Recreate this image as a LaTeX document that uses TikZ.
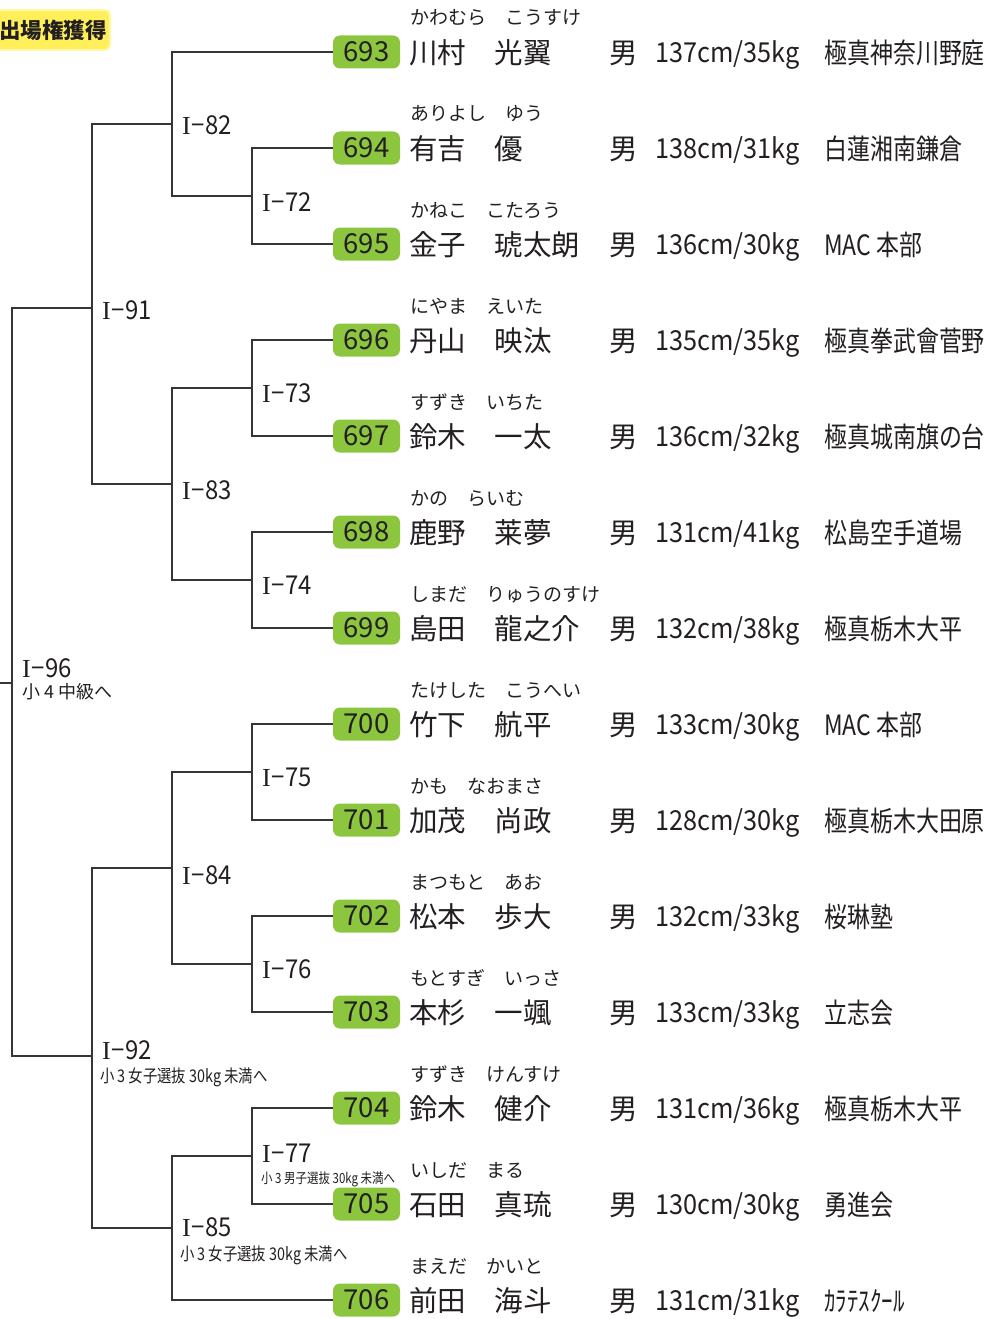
\documentclass[tikz,border=0pt]{standalone}
\usepackage{fontspec}
\setmainfont{Noto Sans CJK JP}
\newfontfamily\condfont{Noto Sans CJK JP}[FakeStretch=0.82]
\newfontfamily\statfont{Noto Sans CJK JP}[FakeStretch=0.92]
\newfontfamily\serifI{Liberation Serif}
\newcommand{\mlab}[1]{{\serifI I}\kern1pt−#1}
\definecolor{ink}{HTML}{231F20}
\definecolor{grn}{HTML}{8CC63F}
\definecolor{ylw}{HTML}{FFF05A}
\definecolor{ylwedge}{HTML}{FFF7A8}
\begin{document}
\begin{tikzpicture}[x=1pt,y=-1pt,
  numbox/.style={fill=grn, rounded corners=7pt, minimum width=67pt, minimum height=33pt, inner sep=0pt, text=ink, font=\fontsize{27.5}{27.5}\selectfont},
  furi/.style={anchor=base west, inner sep=0pt, text=ink, font=\fontsize{19}{19}\selectfont},
  nametext/.style={anchor=base west, inner sep=0pt, text=ink, font=\fontsize{28.5}{28.5}\selectfont},
  stattext/.style={anchor=base west, inner sep=0pt, text=ink, font=\statfont\fontsize{27.5}{27.5}\selectfont},
  dojotext/.style={anchor=base west, inner sep=0pt, text=ink, font=\condfont\fontsize{28}{28}\selectfont},
  matchlabel/.style={anchor=west, inner sep=0pt, text=ink, font=\statfont\fontsize{26}{26}\selectfont},
  sublabel/.style={anchor=west, inner sep=0pt, text=ink, font=\condfont\fontsize{17.5}{17.5}\selectfont},
  smallsub/.style={anchor=west, inner sep=0pt, text=ink, font=\condfont\fontsize{14}{14}\selectfont},
  bracket/.style={draw=ink!90, line width=1.5pt}
]
\useasboundingbox (0,0) rectangle (995,1319);

% badge
\node[fill=ylw, draw=ylwedge, line width=2pt, rounded corners=5pt, minimum width=124pt, minimum height=40pt, inner sep=0pt] (badgebox) at (48,30) {};
\node[anchor=west, inner sep=0pt, text=ink, font=\bfseries\fontsize{21.5}{21.5}\selectfont] (badge) at (-1,30) {出場権獲得};

% entries
\foreach \n/\y/\f/\nm/\h/\w/\dj in {
  693/52/かわむら　こうすけ/川村　光翼/137/35/極真神奈川野庭,
  694/148/ありよし　ゆう/有吉　優/138/31/白蓮湘南鎌倉,
  695/244/かねこ　こたろう/金子　琥太朗/136/30/MAC 本部,
  696/340/にやま　えいた/丹山　映汰/135/35/極真拳武會菅野,
  697/436/すずき　いちた/鈴木　一太/136/32/極真城南旗の台,
  698/532/かの　らいむ/鹿野　莱夢/131/41/松島空手道場,
  699/628/しまだ　りゅうのすけ/島田　龍之介/132/38/極真栃木大平,
  700/724/たけした　こうへい/竹下　航平/133/30/MAC 本部,
  701/820/かも　なおまさ/加茂　尚政/128/30/極真栃木大田原,
  702/916/まつもと　あお/松本　歩大/132/33/桜琳塾,
  703/1012/もとすぎ　いっさ/本杉　一颯/133/33/立志会,
  704/1108/すずき　けんすけ/鈴木　健介/131/36/極真栃木大平,
  705/1204/いしだ　まる/石田　真琉/130/30/勇進会,
  706/1300/まえだ　かいと/前田　海斗/131/31/ｶﾗﾃｽｸｰﾙ}{
  \node[numbox] (b\n) at (366.5,\y) {\n};
  \node[furi] (f\n) at (410,\y-27) {\f};
  \node[nametext] (n\n) at (409,\y+11.5) {\nm};
  \node[nametext] (s\n) at (609,\y+11.5) {男};
  \node[stattext] (t\n) at (655,\y+10.5) {\h cm/\w kg};
  \node[dojotext] (d\n) at (824,\y+11.5) {\dj};
}

% junctions
\coordinate (m72) at (252,196);
\coordinate (m82) at (172,124);
\coordinate (m73) at (252,388);
\coordinate (m74) at (252,580);
\coordinate (m83) at (172,484);
\coordinate (m91) at (92,308);
\coordinate (m75) at (252,772);
\coordinate (m76) at (252,964);
\coordinate (m84) at (172,868);
\coordinate (m77) at (252,1156);
\coordinate (m85) at (172,1228);
\coordinate (m92) at (92,1056);
\coordinate (m96) at (12,683);
\coordinate (out) at (0,683);

\draw[bracket] (b694.west) -| (m72) |- (b695.west);
\draw[bracket] (b693.west) -| (m82) |- (m72);
\draw[bracket] (b696.west) -| (m73) |- (b697.west);
\draw[bracket] (b698.west) -| (m74) |- (b699.west);
\draw[bracket] (m73) -| (m83) |- (m74);
\draw[bracket] (m82) -| (m91) |- (m83);
\draw[bracket] (b700.west) -| (m75) |- (b701.west);
\draw[bracket] (b702.west) -| (m76) |- (b703.west);
\draw[bracket] (m75) -| (m84) |- (m76);
\draw[bracket] (b704.west) -| (m77) |- (b705.west);
\draw[bracket] (m77) -| (m85) |- (b706.west);
\draw[bracket] (m84) -| (m92) |- (m85);
\draw[bracket] (m91) -| (m96) |- (m92);
\draw[bracket] (m96) -- (out);

% match labels
\node[matchlabel] (l82) at (182,125) {\mlab{82}};
\node[matchlabel] (l72) at (262,202) {\mlab{72}};
\node[matchlabel] (l91) at (102,310) {\mlab{91}};
\node[matchlabel] (l73) at (262,393) {\mlab{73}};
\node[matchlabel] (l83) at (182,490) {\mlab{83}};
\node[matchlabel] (l74) at (262,585) {\mlab{74}};
\node[matchlabel] (l96) at (22,668) {\mlab{96}};
\node[anchor=west, inner sep=0pt, text=ink, font=\fontsize{18}{18}\selectfont] (s96) at (22,692) {小 4 中級へ};
\node[matchlabel] (l75) at (262,777) {\mlab{75}};
\node[matchlabel] (l84) at (182,875) {\mlab{84}};
\node[matchlabel] (l76) at (262,969) {\mlab{76}};
\node[matchlabel] (l92) at (102,1050) {\mlab{92}};
\node[sublabel] (s92) at (100,1077) {小 3 女子選抜 30kg 未満へ};
\node[matchlabel] (l77) at (262,1153) {\mlab{77}};
\node[smallsub] (s77) at (261,1179) {小 3 男子選抜 30kg 未満へ};
\node[matchlabel] (l85) at (182,1227) {\mlab{85}};
\node[sublabel] (s85) at (180,1255) {小 3 女子選抜 30kg 未満へ};
\end{tikzpicture}
\end{document}
